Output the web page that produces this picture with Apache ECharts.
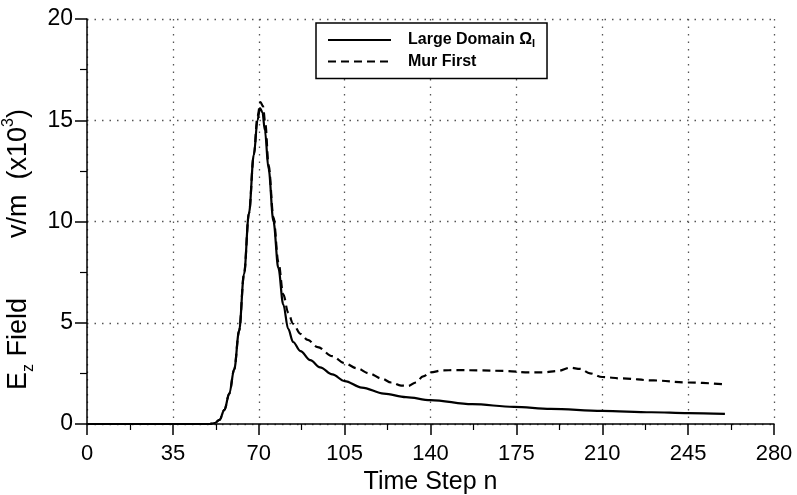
<!DOCTYPE html>
<html>
<head>
<meta charset="utf-8">
<script src="https://cdn.jsdelivr.net/npm/echarts@6/dist/echarts.min.js"></script>
<style>html,body{margin:0;padding:0;background:#fff}#c{width:797px;height:495px}</style>
</head>
<body>
<div id="c"></div>
<script>
// ---- data ----
const xTickLabels = [0, 35, 70, 105, 140, 175, 210, 245, 280];
const yTickLabels = [0, 5, 10, 15, 20];
const seriesNames = ['Large Domain', 'Mur First'];

const largeT = [0, 50, 52, 54, 56, 58, 60, 62, 64, 66, 68, 69.5, 70.5, 71.5, 72.5, 74, 76, 78, 80, 82, 84, 87, 91, 95, 100, 105, 112, 121, 130, 140, 157, 174, 189, 210, 230, 245, 260];
const largeV = [0, 0, 0.05, 0.2, 0.7, 1.5, 2.7, 4.6, 7.4, 10.4, 13.3, 15.0, 15.6, 15.4, 14.5, 12.6, 10.0, 7.7, 5.9, 4.7, 4.05, 3.6, 3.15, 2.8, 2.45, 2.12, 1.8, 1.5, 1.33, 1.18, 0.98, 0.85, 0.75, 0.65, 0.58, 0.54, 0.5];

const murT = [0, 50, 52, 54, 56, 58, 60, 62, 64, 66, 68, 69.5, 70.7, 71.7, 72.7, 74, 76, 78, 80, 82, 84, 87, 90, 94, 100, 105, 110, 115, 120, 124, 128, 131, 134, 137, 140, 145, 150, 160, 170, 180, 186, 192, 197, 201, 205, 210, 218, 231, 245, 260];
const murV = [0, 0, 0.05, 0.2, 0.7, 1.5, 2.7, 4.6, 7.4, 10.4, 13.3, 15.2, 15.9, 15.7, 14.8, 12.8, 10.2, 8.0, 6.4, 5.5, 4.95, 4.45, 4.15, 3.8, 3.35, 3.0, 2.75, 2.5, 2.25, 2.05, 1.9, 1.88, 2.05, 2.35, 2.55, 2.65, 2.66, 2.65, 2.62, 2.55, 2.55, 2.62, 2.78, 2.72, 2.5, 2.32, 2.25, 2.15, 2.05, 1.96];

const zip = (a, b) => a.map((t, i) => [t, b[i]]);
const FONT = "'Liberation Sans', Arial, sans-serif";

const chart = echarts.init(document.getElementById('c'), null, {renderer: 'canvas'});
const gridLine = {show: true, lineStyle: {color: '#555', width: 1.3, type: [1.5, 6]}};

chart.setOption({
  animation: false,
  backgroundColor: '#fff',
  grid: {left: 87, right: 23, top: 19, bottom: 71, containLabel: false, outerBoundsMode: 'none'},
  legend: {
    orient: 'vertical', left: 316, top: 23,
    itemWidth: 63, itemHeight: 14, itemGap: 4,
    padding: [9, 12, 9, 11],
    borderColor: '#000', borderWidth: 1.5,
    backgroundColor: '#fff',
    data: seriesNames,
    itemStyle: {color: 'rgba(0,0,0,0)', borderColor: 'rgba(0,0,0,0)', borderWidth: 0},
    formatter: function (n) { return n === 'Large Domain' ? '{b|Large Domain Ω}{s|I}' : '{b|Mur First}'; },
    textStyle: {
      color: '#000', fontFamily: FONT, fontWeight: 'bold', fontSize: 16, padding: [0, 0, 0, 12],
      rich: {
        b: {fontFamily: FONT, fontWeight: 'bold', fontSize: 16, color: '#000'},
        s: {fontFamily: FONT, fontWeight: 'bold', fontSize: 11, color: '#000', verticalAlign: 'bottom', padding: [8, 0, 0, 0]}
      }
    }
  },
  xAxis: {
    type: 'value', min: xTickLabels[0], max: xTickLabels[xTickLabels.length - 1], interval: 35,
    name: 'Time Step n', nameLocation: 'middle', nameGap: 43,
    nameTextStyle: {fontFamily: FONT, fontSize: 25, color: '#000'},
    axisLine: {show: true, onZero: false, lineStyle: {color: '#000', width: 1.5}},
    axisTick: {show: true, inside: false, length: 11, lineStyle: {color: '#000', width: 1.5}},
    minorTick: {show: true, splitNumber: 2, length: 6, lineStyle: {color: '#000', width: 1.2}},
    axisLabel: {fontFamily: FONT, fontSize: 22, color: '#000', margin: 19},
    splitLine: gridLine
  },
  yAxis: {
    type: 'value', min: yTickLabels[0], max: yTickLabels[yTickLabels.length - 1], interval: 5,
    name: '{a|E}{sub|z}{a| Field        v/m  (x10}{sup|3}{a|)}',
    nameLocation: 'middle', nameGap: 46, nameRotate: 90,
    nameTextStyle: {
      color: '#000', fontFamily: FONT, fontSize: 27, padding: [0, 56, 0, 0],
      rich: {
        a: {fontFamily: FONT, fontSize: 27, color: '#000', lineHeight: 36},
        sub: {fontFamily: FONT, fontSize: 16, color: '#000', verticalAlign: 'bottom', lineHeight: 36},
        sup: {fontFamily: FONT, fontSize: 16, color: '#000', verticalAlign: 'top', lineHeight: 36}
      }
    },
    axisLine: {show: true, onZero: false, lineStyle: {color: '#000', width: 1.5}},
    axisTick: {show: true, inside: false, length: 12, lineStyle: {color: '#000', width: 1.5}},
    minorTick: {show: true, splitNumber: 2, length: 7, lineStyle: {color: '#000', width: 1.2}},
    axisLabel: {fontFamily: FONT, fontSize: 23, color: '#000', margin: 14},
    splitLine: gridLine
  },
  series: [
    {
      name: seriesNames[0], type: 'line', data: zip(largeT, largeV),
      symbol: 'none', smooth: 0.35, smoothMonotone: 'x',
      lineStyle: {color: '#000', width: 2.2, type: 'solid'}, itemStyle: {color: '#000'}, z: 3
    },
    {
      name: seriesNames[1], type: 'line', data: zip(murT, murV),
      symbol: 'none', smooth: 0.35, smoothMonotone: 'x',
      lineStyle: {color: '#000', width: 2.2, type: [8, 5]}, itemStyle: {color: '#000'}, z: 4
    }
  ]
});
</script>
</body>
</html>
